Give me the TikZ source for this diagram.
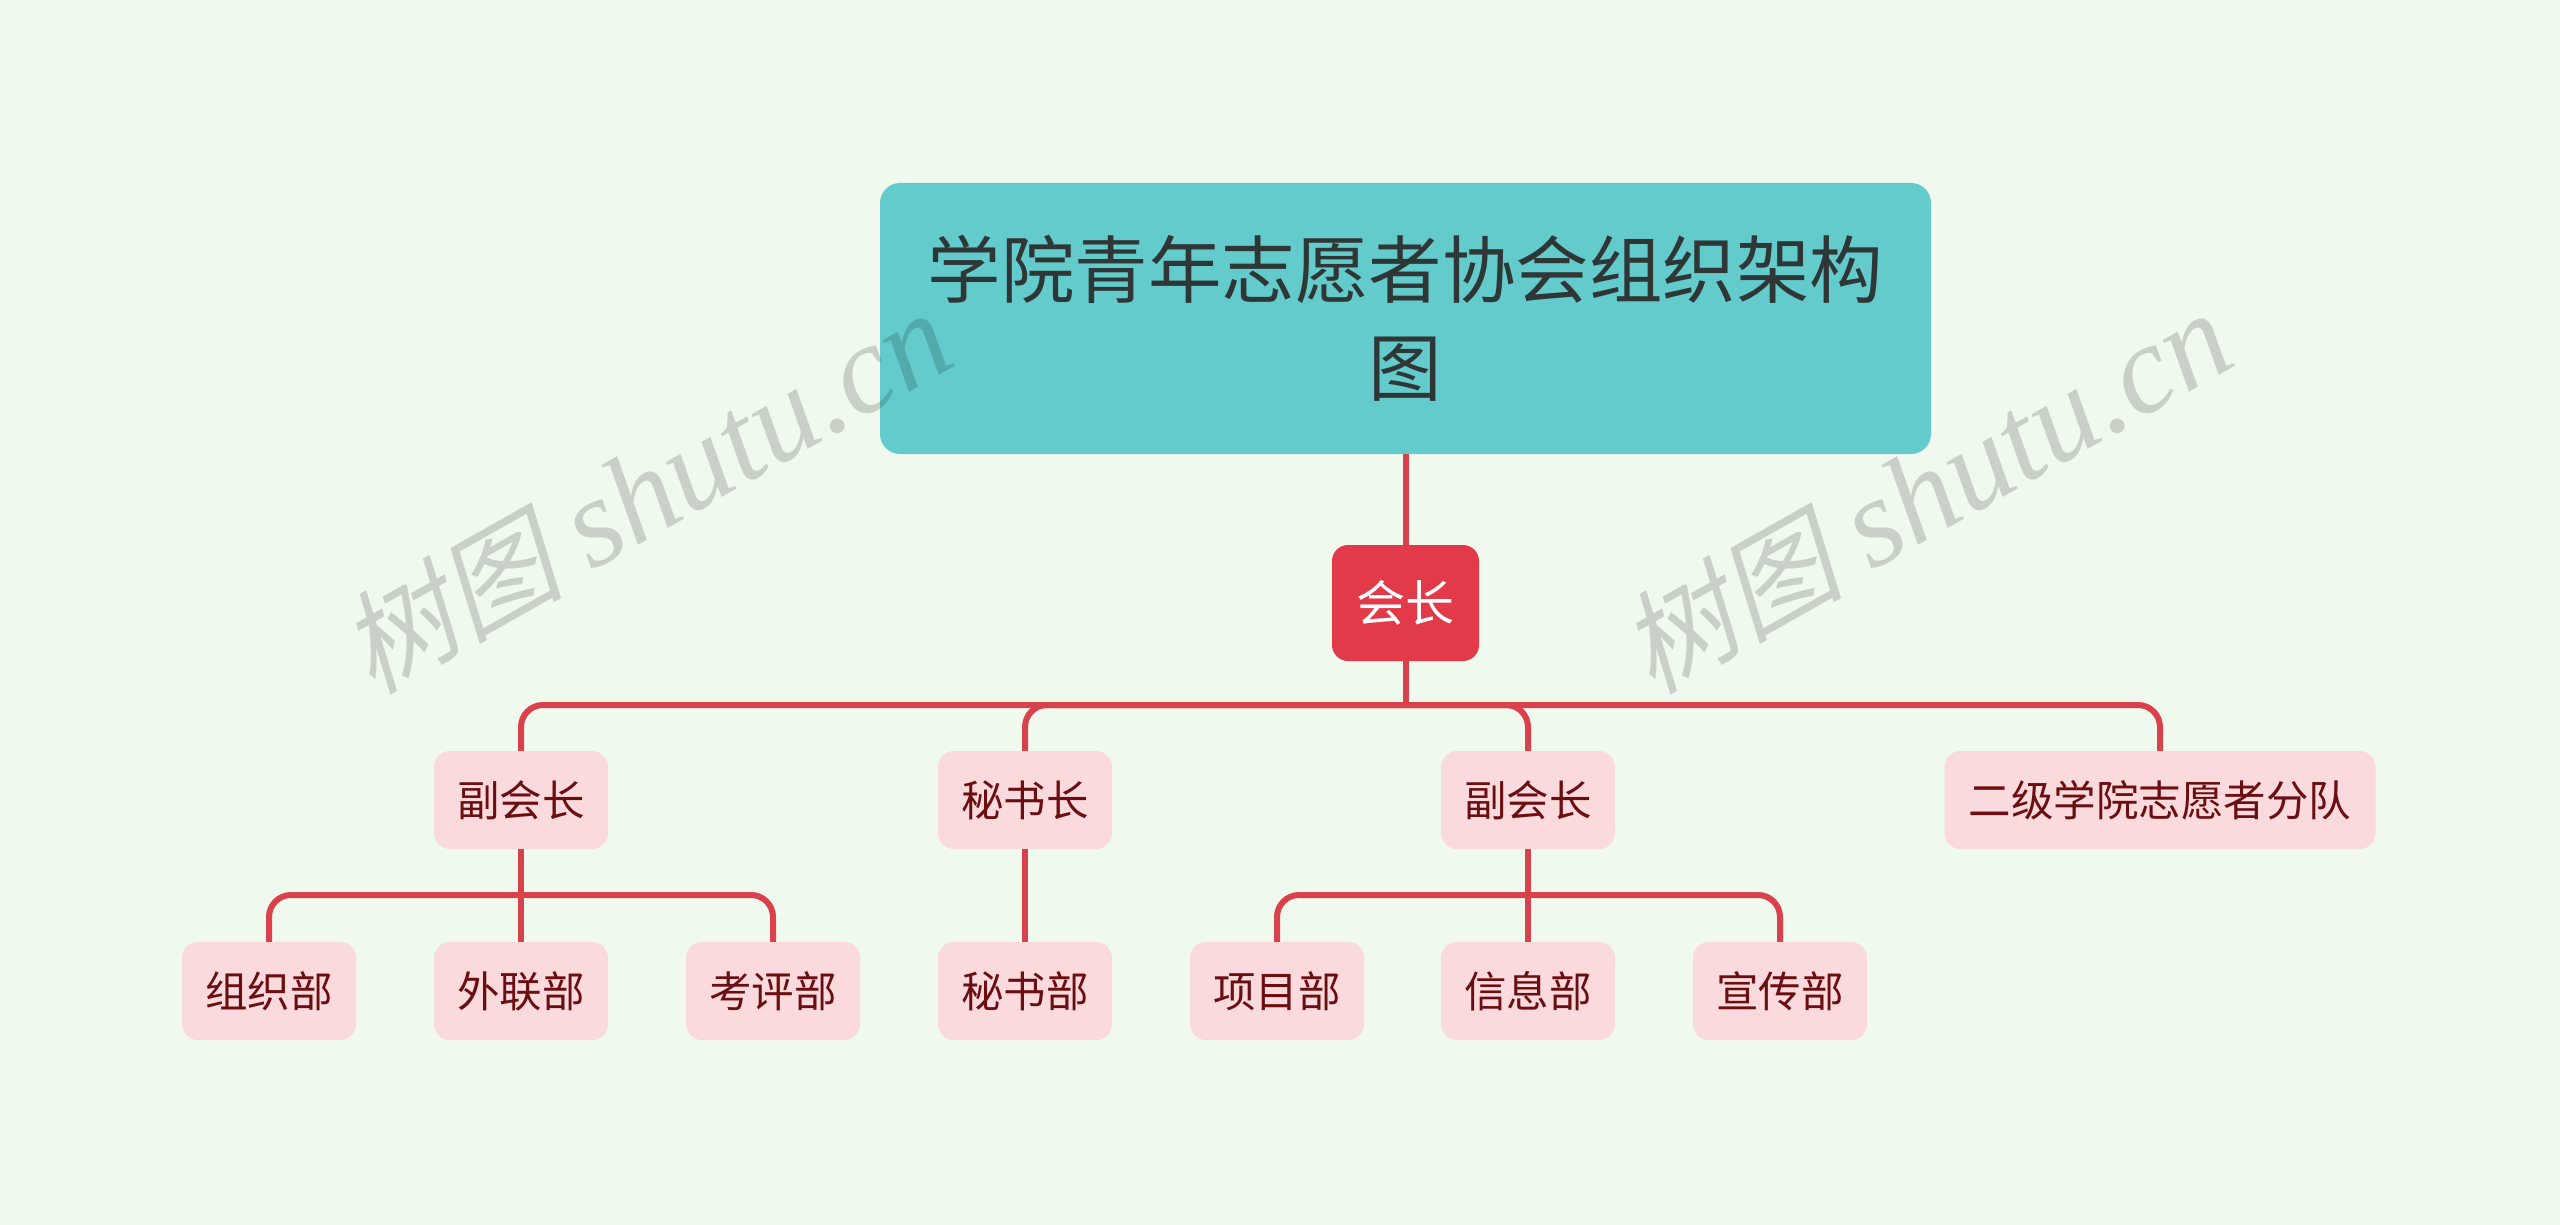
\documentclass[tikz,border=0pt]{standalone}
\usepackage{fontspec}
\setmainfont{Noto Sans CJK SC}
\newfontfamily\wmcjk[FakeSlant=0.22]{Noto Sans CJK SC}
\newfontfamily\wmlat{Liberation Serif}
\definecolor{bgc}{HTML}{F0F9EE}
\definecolor{rootfill}{HTML}{63CBCC}
\definecolor{roottext}{HTML}{2E3636}
\definecolor{hzfill}{HTML}{E23A48}
\definecolor{linec}{HTML}{D9414C}
\definecolor{lvfill}{HTML}{FADADD}
\definecolor{lvtext}{HTML}{6B0E12}
\tikzset{
  rootbox/.style={fill=rootfill, rounded corners=20pt, minimum width=1051pt, minimum height=271pt,
    inner sep=0pt, align=center, text=roottext, font=\fontsize{73.5}{98}\selectfont},
  chairbox/.style={fill=hzfill, rounded corners=16pt, minimum width=147pt, minimum height=116pt,
    inner sep=0pt, text=white, font=\fontsize{49}{49}\selectfont},
  lvbox/.style={fill=lvfill, rounded corners=16pt, minimum width=174pt, minimum height=98pt,
    inner sep=0pt, text=lvtext, font=\fontsize{42.5}{42.5}\selectfont},
  conn/.style={draw=linec, line width=6pt},
  rconn/.style={conn, rounded corners=22pt},
  wm/.style={text=black, text opacity=0.16, inner sep=0pt, anchor=base west, rotate=29.5}
}
\newcommand{\wmtext}{{\wmcjk\fontsize{112}{112}\selectfont 树图}\hspace{28pt}{\wmlat\itshape\fontsize{126}{126}\selectfont shutu.cn}}
\begin{document}
\begin{tikzpicture}[x=1pt,y=-1pt]
\fill[bgc] (0,0) rectangle (2560,1225);
\useasboundingbox (0,0) rectangle (2560,1225);

% coordinates of buses
\coordinate (bus) at (1405.5,705);
\coordinate (b1) at (521,895);
\coordinate (b2) at (1528,895);

% nodes
\node[rootbox] (root) at (1405.5,318.5) {学院青年志愿者协会组织架构\\图};
\node[chairbox] (hz) at (1405.5,603) {会长};

\node[lvbox] (f1) at (521,800) {副会长};
\node[lvbox] (ms) at (1025,800) {秘书长};
\node[lvbox] (f2) at (1528,800) {副会长};
\node[lvbox, minimum width=431pt] (ej) at (2160,800) {二级学院志愿者分队};

\node[lvbox] (zz) at (269,991) {组织部};
\node[lvbox] (wl) at (521,991) {外联部};
\node[lvbox] (kp) at (773,991) {考评部};
\node[lvbox] (msb) at (1025,991) {秘书部};
\node[lvbox] (xm) at (1277,991) {项目部};
\node[lvbox] (xx) at (1528,991) {信息部};
\node[lvbox] (xc) at (1780,991) {宣传部};

% connectors
\draw[conn] (root.south) -- (hz.north);
\draw[conn] (hz.south) -- (bus);
\draw[rconn] (f1.north) |- (bus);
\draw[rconn] (ms.north) |- (bus);
\draw[rconn] (f2.north) |- (bus);
\draw[rconn] (ej.north) |- (bus);

\draw[conn] (f1.south) -- (wl.north);
\draw[rconn] (zz.north) |- (b1);
\draw[rconn] (kp.north) |- (b1);

\draw[conn] (ms.south) -- (msb.north);

\draw[conn] (f2.south) -- (xx.north);
\draw[rconn] (xm.north) |- (b2);
\draw[rconn] (xc.north) |- (b2);

% watermarks
\node[wm] (wm1) at (372,696) {\wmtext};
\node[wm] (wm2) at (1652,696) {\wmtext};
\end{tikzpicture}
\end{document}
